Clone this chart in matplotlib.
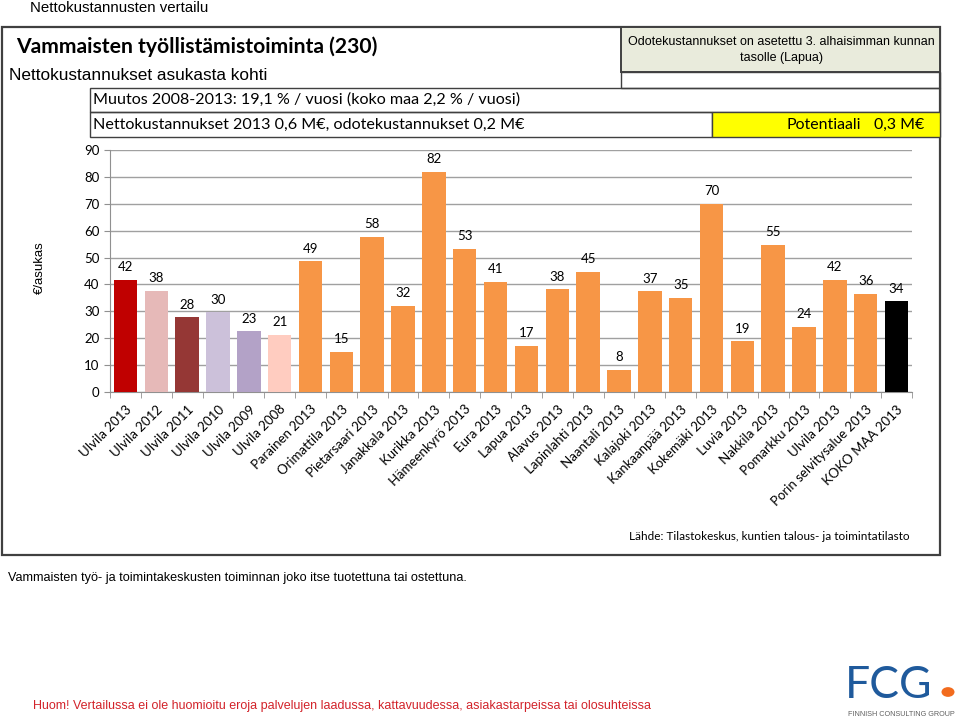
# -*- coding:utf-8 -*-
### Nettokustannusten vertailu - vammaisten tyollistamistoiminta
### bar chart of net cost per inhabitant, saved to out.png

import matplotlib
matplotlib.use('Agg')
import matplotlib.pyplot as plt
from matplotlib.patches import Rectangle, Circle

### data
kunnat = ['Ulvila 2013', 'Ulvila 2012', 'Ulvila 2011', 'Ulvila 2010', 'Ulvila 2009',
          'Ulvila 2008', 'Parainen 2013', 'Orimattila 2013', 'Pietarsaari 2013',
          'Janakkala 2013', 'Kurikka 2013', 'Hämeenkyrö 2013', 'Eura 2013',
          'Lapua 2013', 'Alavus 2013', 'Lapinlahti 2013', 'Naantali 2013',
          'Kalajoki 2013', 'Kankaanpää 2013', 'Kokemäki 2013', 'Luvia 2013',
          'Nakkila 2013', 'Pomarkku 2013', 'Ulvila 2013', 'Porin selvitysalue 2013',
          'KOKO MAA 2013']
arvot = [41.6, 37.6, 27.8, 29.6, 22.6, 21.2, 48.6, 14.8, 57.8, 32.0, 81.9, 53.2,
         41.0, 17.2, 38.2, 44.6, 8.1, 37.4, 34.9, 70.0, 18.8, 54.8, 24.2, 41.6,
         36.4, 33.7]
varit = ['#C00000', '#E6B9B8', '#953735', '#CCC1DA', '#B3A2C7', '#FFCCC0'] + \
        ['#F79646'] * 19 + ['#000000']

W, H = 960.0, 720.0
CAL = ['Lato', 'DejaVu Sans']
ARI = ['Liberation Sans', 'DejaVu Sans']

fig = plt.figure(figsize=(9.6, 7.2), dpi=100)
fig.patch.set_facecolor('white')

## ------------------------------
def box(x0, y0, x1, y1, fc='none', lw=1.2, ec='#404040'):
    """ rectangle in pixel coords (y from top) """
    r = Rectangle((x0 / W, 1 - y1 / H), (x1 - x0) / W, (y1 - y0) / H,
                  transform=fig.transFigure, facecolor=fc, edgecolor=ec,
                  linewidth=lw, zorder=1)
    fig.patches.append(r)

def txt(x, y, s, **kw):
    fig.text(x / W, 1 - y / H, s, **kw)

### frames
box(2, 27, 940, 555, lw=1.6)
box(621, 27, 940, 72, fc='#E9EBDC', lw=1.4)
box(621, 72, 940, 88, lw=1.0)
box(90, 88, 940, 112, lw=1.0)
box(90, 112, 712, 137, lw=1.0)
box(712, 112, 940, 137, fc='#FFFF00', lw=1.0)

### texts
txt(30, 8, 'Nettokustannusten vertailu', family=ARI, fontsize=10.8, va='center')
txt(16, 47, 'Vammaisten työllistämistoiminta (230)', family=CAL, fontsize=15.2,
    fontweight='bold', va='center')
txt(9, 76, 'Nettokustannukset asukasta kohti', family=ARI, fontsize=12.4, va='center')
txt(781, 42, 'Odotekustannukset on asetettu 3. alhaisimman kunnan', family=ARI,
    fontsize=9, ha='center', va='center')
txt(781, 58, 'tasolle (Lapua)', family=ARI, fontsize=9, ha='center', va='center')
txt(93, 100, 'Muutos 2008-2013: 19,1 % / vuosi (koko maa 2,2 % / vuosi)', family=CAL,
    fontsize=11.6, va='center')
txt(93, 125, 'Nettokustannukset 2013 0,6 M€, odotekustannukset 0,2 M€', family=CAL,
    fontsize=11.6, va='center')
txt(787, 125, 'Potentiaali', family=CAL, fontsize=11.4, va='center')
txt(924, 125, '0,3 M€', family=CAL, fontsize=11.4, va='center', ha='right')
txt(910, 537, 'Lähde: Tilastokeskus, kuntien talous- ja toimintatilasto', family=CAL,
    fontsize=8.5, va='center', ha='right')
txt(8, 578, 'Vammaisten työ- ja toimintakeskusten toiminnan joko itse tuotettuna tai ostettuna.',
    family=ARI, fontsize=9.1, va='center')
txt(33, 706, 'Huom! Vertailussa ei ole huomioitu eroja palvelujen laadussa, kattavuudessa, asiakastarpeissa tai olosuhteissa',
    family=ARI, fontsize=9.0, va='center', color='#D2232A')
txt(40, 268, '€/asukas', family=ARI, fontsize=9.5, rotation=90, ha='center', va='center')

### logo
txt(845, 686, 'FCG', family=['Lato', 'DejaVu Sans'], fontsize=32, color='#1F5A9C',
    va='center', fontweight='normal')
fig.patches.append(Circle((948 / W, 1 - 692 / H), 6.5 / W, transform=fig.transFigure,
                          facecolor='#F26B1D', edgecolor='none'))
txt(848, 715, 'FINNISH CONSULTING GROUP', family=ARI, fontsize=5.2, color='#606060',
    va='center')

### chart
ax = fig.add_axes([110 / W, 1 - 392 / H, 802 / W, 242 / H])
x = list(range(len(arvot)))
ax.bar(x, arvot, width=0.76, color=varit, zorder=3)
for i, v in enumerate(arvot):
    ax.text(i, v + 2.5, '%d' % round(v), ha='center', va='bottom', family=CAL,
            fontsize=9.5, zorder=4)

ax.set_xlim(-0.5, len(arvot) - 0.5)
ax.set_ylim(0, 90)
ax.set_yticks(range(0, 91, 10))
ax.yaxis.grid(True, color='#A0A0A0', linewidth=1.0, zorder=0)
ax.set_axisbelow(True)
for s in ['top', 'right']:
    ax.spines[s].set_visible(False)
ax.spines['left'].set_color('#909090')
ax.spines['bottom'].set_color('#909090')
ax.tick_params(axis='y', direction='out', length=4, color='#909090', labelsize=9.5)
ax.set_xticks(x)
ax.set_xticklabels(kunnat, rotation=45, ha='right', rotation_mode='anchor',
                   family=CAL, fontsize=9.5)
ax.tick_params(axis='x', which='major', length=0, pad=8)
ax.set_xticks([i - 0.5 for i in range(len(arvot) + 1)], minor=True)
ax.tick_params(axis='x', which='minor', direction='out', length=4, color='#909090')
for t in ax.get_yticklabels():
    t.set_family(CAL)

plt.savefig('out.png', dpi=100)
